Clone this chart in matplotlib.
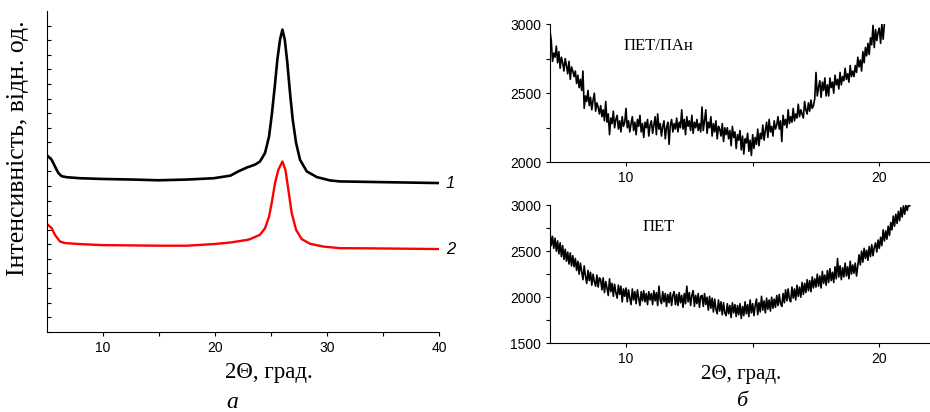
import numpy as np
import matplotlib
matplotlib.use("Agg")
import matplotlib.pyplot as plt

# ---- panel a: XRD curves (arbitrary units) ----
xa_1 = [5.0, 5.45, 5.74, 6.04, 6.34, 6.8, 8.0, 10.0, 12.7, 15.0, 17.5, 19.9, 21.4, 22.1,
        22.9, 23.14, 23.6, 24.03, 24.48, 24.84, 25.1, 25.35, 25.58, 25.82, 26.03, 26.24,
        26.47, 26.71, 26.95, 27.25, 27.6, 28.2, 29.1, 30.28, 31.17, 32.1, 35.1, 40.0]
ya_1 = [12.13, 11.8, 11.35, 10.9, 10.67, 10.6, 10.53, 10.48, 10.44, 10.39, 10.44, 10.53,
        10.71, 11.0, 11.28, 11.34, 11.47, 11.68, 12.26, 13.4, 15.0, 16.84, 18.67, 20.05,
        20.73, 20.05, 18.45, 16.38, 14.55, 12.95, 11.8, 11.0, 10.61, 10.38, 10.31, 10.3,
        10.26, 10.2]

xa_2 = [5.0, 5.45, 5.74, 6.19, 6.64, 8.0, 10.0, 15.0, 17.5, 19.9, 21.4, 22.9, 23.14, 24.03,
        24.48, 24.84, 25.1, 25.37, 25.67, 26.03, 26.3, 26.56, 26.86, 27.25, 27.75, 28.5,
        29.68, 31.17, 33.6, 40.0]
ya_2 = [7.41, 7.11, 6.65, 6.19, 6.08, 6.01, 5.94, 5.9, 5.9, 6.01, 6.12, 6.3, 6.35, 6.65,
        7.1, 7.9, 8.94, 10.2, 11.11, 11.68, 11.11, 9.74, 8.14, 6.99, 6.35, 6.03, 5.84,
        5.73, 5.72, 5.67]

# ---- panel b: scans, step 0.05 deg ----
x_pan = np.round(np.arange(7.0, 20.225, 0.05), 2)
y_pan = [2950, 2880, 2730, 2790, 2760, 2840, 2720, 2800, 2680, 2760, 2720, 2660, 2750, 2700, 2640, 2730, 2600, 2690, 2660, 2620,
         2660, 2570, 2630, 2540, 2600, 2520, 2660, 2390, 2480, 2440, 2520, 2410, 2470, 2380, 2450, 2500, 2370, 2430, 2400, 2350,
         2410, 2330, 2380, 2300, 2440, 2290, 2350, 2200, 2320, 2280, 2370, 2250, 2310, 2340, 2240, 2300, 2220, 2330, 2260, 2290,
         2390, 2250, 2300, 2220, 2280, 2330, 2230, 2290, 2200, 2310, 2260, 2340, 2220, 2280, 2180, 2290, 2250, 2310, 2190, 2270,
         2300, 2210, 2270, 2330, 2200, 2350, 2240, 2280, 2190, 2260, 2300, 2170, 2250, 2290, 2130, 2270, 2310, 2220, 2280, 2240,
         2320, 2220, 2290, 2250, 2380, 2240, 2310, 2200, 2330, 2260, 2300, 2230, 2340, 2210, 2290, 2250, 2310, 2230, 2280, 2220,
         2400, 2230, 2300, 2380, 2210, 2290, 2250, 2330, 2190, 2280, 2220, 2300, 2170, 2260, 2240, 2190, 2280, 2150, 2250, 2200,
         2250, 2170, 2230, 2120, 2260, 2180, 2220, 2100, 2200, 2160, 2230, 2090, 2190, 2060, 2170, 2140, 2210, 2080, 2160, 2050,
         2200, 2100, 2180, 2130, 2240, 2120, 2210, 2170, 2270, 2160, 2230, 2290, 2180, 2310, 2220, 2260, 2190, 2300, 2240, 2270,
         2330, 2240, 2300, 2150, 2340, 2270, 2310, 2250, 2380, 2280, 2330, 2290, 2390, 2300, 2350, 2320, 2420, 2330, 2380, 2350,
         2320, 2440, 2380, 2350, 2430, 2370, 2450, 2390, 2410, 2460, 2650, 2480, 2540, 2590, 2470, 2580, 2520, 2610, 2480, 2560,
         2480, 2610, 2540, 2580, 2500, 2630, 2560, 2600, 2530, 2650, 2560, 2620, 2590, 2680, 2600, 2640, 2580, 2700, 2620, 2660,
         2620, 2700, 2650, 2760, 2690, 2740, 2660, 2800, 2720, 2830, 2770, 2860, 2780, 2900, 2850, 2990, 2830, 2960, 2880, 2940,
         2970, 2860, 3000, 2890, 3000]

x_pet = np.round(np.arange(7.0, 21.225, 0.05), 2)
y_pet = [2700, 2560, 2660, 2530, 2640, 2500, 2610, 2470, 2590, 2440, 2560, 2410, 2520, 2390, 2490, 2360, 2480, 2340, 2450, 2330,
         2420, 2290, 2390, 2250, 2370, 2280, 2190, 2340, 2230, 2150, 2290, 2180, 2270, 2130, 2250, 2170, 2120, 2240, 2110, 2210,
         2190, 2080, 2210, 2050, 2170, 2100, 2020, 2200, 2060, 2150, 2010, 2140, 2050, 1990, 2130, 2030, 2120, 1950, 2090, 2010,
         2100, 1950, 2080, 1990, 1920, 2090, 1970, 2060, 1930, 2080, 1990, 1910, 2060, 1960, 2070, 1950, 2040, 1920, 2060, 1970,
         2040, 1920, 2070, 1960, 2050, 1910, 2120, 1970, 1930, 2060, 1950, 2040, 1900, 2030, 1940, 2050, 1910, 2020, 2060, 1920,
         2030, 1910, 2050, 1940, 2020, 1890, 2040, 1930, 2120, 1950, 2050, 1910, 2020, 2070, 1900, 2020, 1930, 2040, 1890, 2010,
         2020, 1900, 2040, 1920, 2000, 1860, 2010, 1880, 1990, 1840, 1980, 1870, 1820, 1970, 1850, 1950, 1810, 1940, 1830, 1800,
         1930, 1820, 1910, 1780, 1940, 1830, 1920, 1790, 1910, 1810, 1930, 1770, 1900, 1800, 1950, 1820, 1920, 1790, 1970, 1830,
         1930, 1800, 1910, 1980, 1810, 1940, 1840, 2010, 1860, 1960, 1830, 1990, 1870, 1970, 1850, 2000, 1880, 1980, 1890, 2020,
         1910, 2030, 1930, 1900, 2040, 1940, 2080, 1960, 2090, 1980, 1950, 2110, 1990, 2090, 1970, 2130, 2010, 2110, 2000, 2160,
         2030, 2150, 2050, 2190, 2070, 2180, 2060, 2220, 2100, 2200, 2110, 2250, 2120, 2230, 2100, 2280, 2150, 2240, 2130, 2290,
         2160, 2310, 2180, 2270, 2160, 2330, 2200, 2420, 2220, 2340, 2190, 2320, 2220, 2370, 2230, 2330, 2200, 2390, 2250, 2350,
         2260, 2370, 2230, 2340, 2460, 2350, 2500, 2380, 2530, 2420, 2510, 2400, 2550, 2440, 2570, 2450, 2540, 2590, 2490, 2620,
         2530, 2650, 2560, 2730, 2610, 2720, 2630, 2770, 2670, 2810, 2730, 2880, 2770, 2900, 2800, 2930, 2830, 2970, 2870, 2990,
         2900, 3000, 2940, 3000, 2990]

serif = ['Liberation Serif', 'DejaVu Serif']
sans = ['Liberation Sans', 'DejaVu Sans']
plt.rcParams['font.family'] = sans

fig = plt.figure(figsize=(9.3, 4.12), dpi=100)

# ---------- a ----------
ax = fig.add_axes([0.0501, 0.195, 0.422, 0.778])
ax.plot(xa_1, ya_1, color='black', lw=1.9, solid_joinstyle='round')
ax.plot(xa_2, ya_2, color='red', lw=1.7, solid_joinstyle='round')
ax.set_xlim(5, 40)
ax.set_ylim(0, 22)
ax.set_xticks([10, 20, 30, 40])
ax.set_xticks([15, 25, 35], minor=True)
ax.set_yticks(range(0, 22))
ax.set_yticklabels([])
ax.spines['top'].set_visible(False)
ax.spines['right'].set_visible(False)
ax.tick_params(axis='y', direction='in', length=3, width=0.8)
ax.tick_params(axis='x', which='both', direction='out', length=3, width=0.8, labelsize=10)
ax.text(40.6, ya_1[-1], '1', style='italic', fontsize=12, va='center', ha='left')
ax.text(40.6, ya_2[-1], '2', style='italic', fontsize=12, va='center', ha='left')

fig.text(0.0197, 0.64, 'Інтенсивність, відн. од.', rotation=90, family=serif,
         fontsize=18.5, ha='center', va='center')
fig.text(0.289, 0.095, '2Θ, град.', family=serif, fontsize=16.5, ha='center', va='center')
fig.text(0.2495, 0.022, 'а', family=serif, style='italic', fontsize=17, ha='center', va='center')

# ---------- b ----------
for pos, xs, ys, ylim, name in [
        ([0.5914, 0.606, 0.4086, 0.3357], x_pan, y_pan, (2000, 3000), 'ПЕТ/ПАн'),
        ([0.5914, 0.1667, 0.4086, 0.3357], x_pet, y_pet, (1500, 3000), 'ПЕТ')]:
    axb = fig.add_axes(pos)
    axb.plot(xs, ys, color='black', lw=1.2)
    axb.set_xlim(7, 22)
    axb.set_ylim(*ylim)
    axb.set_xticks([10, 20])
    axb.set_xticks([15], minor=True)
    axb.set_yticks(np.arange(ylim[0], ylim[1] + 1, 500))
    axb.set_yticks(np.arange(ylim[0] + 250, ylim[1], 500), minor=True)
    axb.spines['top'].set_visible(False)
    axb.spines['right'].set_visible(False)
    axb.tick_params(which='both', direction='out', length=3, width=0.8, labelsize=10)
    axb.text(0.285, 0.84, name, transform=axb.transAxes, family=serif, fontsize=12,
             ha='center', va='center')

fig.text(0.797, 0.09, '2Θ, град.', family=serif, fontsize=15, ha='center', va='center')
fig.text(0.797, 0.025, 'б', family=serif, style='italic', fontsize=16, ha='center', va='center')

fig.savefig('out.png', dpi=100)
